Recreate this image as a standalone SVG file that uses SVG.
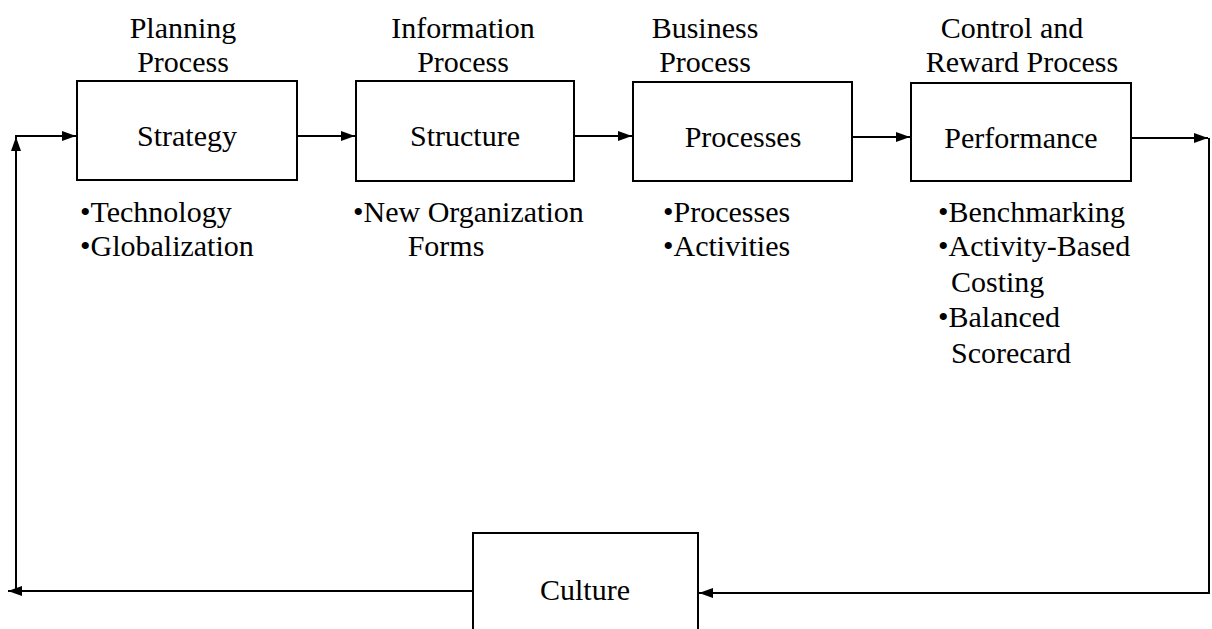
<svg xmlns="http://www.w3.org/2000/svg" width="1212" height="629" viewBox="0 0 1212 629">
<style>
.box{fill:#fff;stroke:#000;stroke-width:2}
.t{font-family:"Liberation Serif","Times New Roman",serif;font-size:30px;fill:#000}
.c{text-anchor:middle}
.ln{fill:none;stroke:#000;stroke-width:2}
</style>
<defs>
<marker id="ah" viewBox="0 0 14 10" refX="14" refY="5" markerWidth="14" markerHeight="10" markerUnits="userSpaceOnUse" orient="auto">
<path d="M0,0 L14,5 L0,10 Z" fill="#000"/>
</marker>
</defs>
<rect width="1212" height="629" fill="#fff"/>
<g id="connectors">
<line class="ln" x1="297" y1="136" x2="355" y2="136" marker-end="url(#ah)"/>
<line class="ln" x1="574" y1="136" x2="632" y2="136" marker-end="url(#ah)"/>
<line class="ln" x1="852" y1="137" x2="910" y2="137" marker-end="url(#ah)"/>
<line class="ln" x1="1131" y1="138" x2="1208" y2="138" marker-end="url(#ah)"/>
<line class="ln" x1="1209" y1="138" x2="1209" y2="594"/>
<line class="ln" x1="1209" y1="593" x2="699" y2="593" marker-end="url(#ah)"/>
<line class="ln" x1="473" y1="591" x2="8" y2="591" marker-end="url(#ah)"/>
<line class="ln" x1="16" y1="591" x2="16" y2="137" marker-end="url(#ah)"/>
<line class="ln" x1="15" y1="136" x2="76" y2="136" marker-end="url(#ah)"/>
</g>
<g id="strategy">
<text class="t c" x="183" y="38">Planning</text>
<text class="t c" x="183" y="72">Process</text>
<rect class="box" x="77" y="81" width="220" height="99"/>
<text class="t c" x="187" y="146">Strategy</text>
<text class="t" x="80" y="222">•Technology</text>
<text class="t" x="80" y="256">•Globalization</text>
</g>
<g id="structure">
<text class="t c" x="463" y="38">Information</text>
<text class="t c" x="463" y="72">Process</text>
<rect class="box" x="356" y="81" width="218" height="100"/>
<text class="t c" x="465" y="146">Structure</text>
<text class="t" x="353" y="222">•New Organization</text>
<text class="t c" x="446" y="256">Forms</text>
</g>
<g id="processes">
<text class="t c" x="705" y="38">Business</text>
<text class="t c" x="705" y="72">Process</text>
<rect class="box" x="633" y="82" width="219" height="99"/>
<text class="t c" x="743" y="147">Processes</text>
<text class="t" x="663" y="222">•Processes</text>
<text class="t" x="663" y="256">•Activities</text>
</g>
<g id="performance">
<text class="t c" x="1012" y="38">Control and</text>
<text class="t c" x="1022" y="72">Reward Process</text>
<rect class="box" x="911" y="83" width="220" height="98"/>
<text class="t c" x="1021" y="148">Performance</text>
<text class="t" x="938" y="222">•Benchmarking</text>
<text class="t" x="938" y="256">•Activity-Based</text>
<text class="t" x="951" y="292">Costing</text>
<text class="t" x="938" y="327">•Balanced</text>
<text class="t" x="951" y="363">Scorecard</text>
</g>
<g id="culture">
<rect class="box" x="473" y="533" width="225" height="110"/>
<text class="t c" x="585" y="600">Culture</text>
</g>
</svg>
